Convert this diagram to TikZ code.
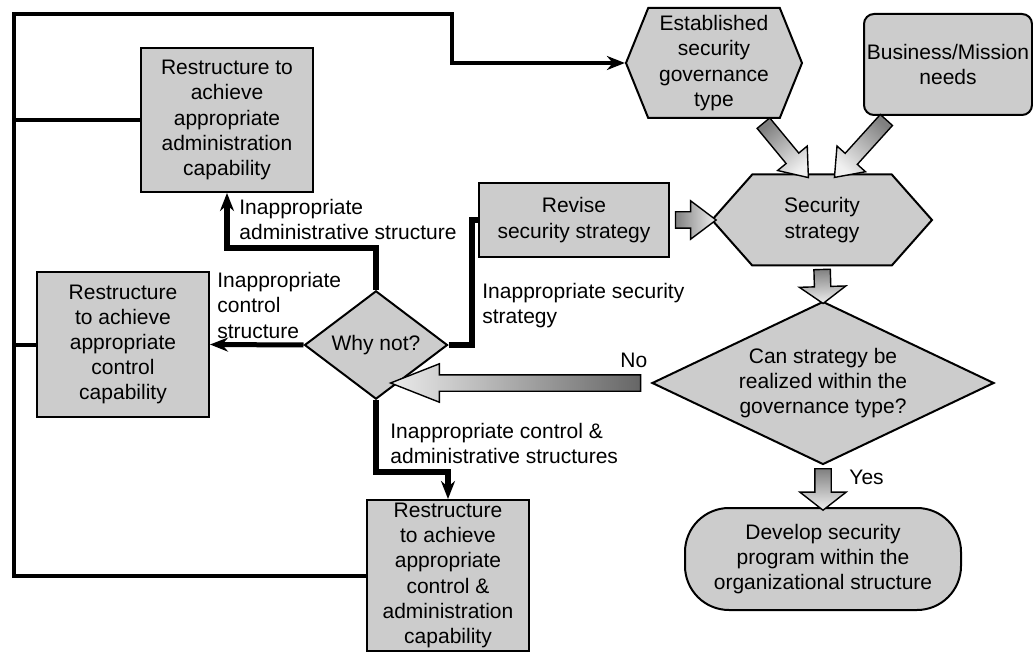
\documentclass[tikz,border=0pt]{standalone}
\usepackage{fontspec}
\setmainfont{Liberation Sans}
\usetikzlibrary{positioning,calc,arrows.meta,shapes.geometric,shapes.symbols,shapes.arrows}
\definecolor{boxgray}{RGB}{204,204,204}
% hollow shaded block arrow between two points
\newcommand{\fatarrow}[3][]{%
  \path let \p1=($(#3)-(#2)$), \n1={veclen(\x1,\y1)}, \n2={atan2(\y1,\x1)}, \n3={\n2+90} in
    node[fat arrow, minimum height=\n1, rotate=\n2, #1, shading angle=\n3] at ($(#2)!0.5!(#3)$) {};}

\begin{document}
\begin{tikzpicture}[x=0.5pt,y=-0.5pt,>={Stealth[length=9pt,width=7pt]},
  font=\fontsize{10.5}{12.6}\selectfont,
  process box/.style={rectangle,draw,line width=1pt,fill=boxgray,align=center,inner sep=1pt},
  hex box/.style={signal,signal to=east and west,draw,line width=1pt,fill=boxgray,align=center,inner sep=0pt},
  decision/.style={diamond,draw,line width=1pt,fill=boxgray,align=center,inner sep=0pt},
  fat arrow/.style={single arrow,draw,line width=0.7pt,inner xsep=0pt,inner ysep=3.75pt,
    single arrow head extend=5.5pt,single arrow tip angle=75,left color=black!50,right color=black!6},
  loop line/.style={line width=2pt},
  branch/.style={line width=3pt},
  note/.style={anchor=north west,inner sep=0pt,align=left}]
  \useasboundingbox (0,0) rectangle (1033,652);

  % boxes
  \node[process box,minimum width=86pt,minimum height=72pt] (admin) at (227,120)
    {Restructure to\\achieve\\appropriate\\administration\\capability};
  \node[process box,minimum width=86pt,minimum height=72.5pt] (ctrl) at (123,344.5)
    {Restructure\\to achieve\\appropriate\\control\\capability};
  \node[process box,minimum width=81pt,minimum height=75.5pt,inner ysep=0pt] (both) at (448,575.5)
    {Restructure\\to achieve\\appropriate\\control \&\\administration\\capability};
  \node[process box,minimum width=95pt,minimum height=37pt] (revise) at (574,220)
    {Revise\\security strategy};
  \node[process box,rounded corners=5pt,minimum width=84pt,minimum height=50.5pt] (needs) at (948,64.5)
    {Business/Mission\\needs};
  \node[hex box,minimum width=88pt,minimum height=55pt,signal pointer angle=136] (govtype) at (714,63)
    {Established\\security\\governance\\type};
  \node[hex box,minimum width=110pt,minimum height=45.5pt,signal pointer angle=97] (strategy) at (822,220)
    {Security\\strategy};
  \node[decision,minimum width=71.5pt,minimum height=52pt] (whynot) at (376,345) {Why not?};
  \node[decision,aspect=2.1,minimum width=171pt,minimum height=81.5pt] (realize) at (823,383)
    {Can strategy be\\realized within the\\governance type?};
  \node[process box,rounded corners=22pt,minimum width=138pt,minimum height=51pt] (develop) at (823,559)
    {Develop security\\program within the\\organizational structure};

  % feedback loop
  \coordinate (tl) at (14,14);
  \coordinate (tr) at (452,14);
  \draw[loop line,->] (both.west) -| (tl) -- (tr) |- (govtype.west);
  \draw[loop line] (admin.west) -- (admin.west -| tl);
  \draw[loop line] (ctrl.west) -- (ctrl.west -| tl);

  % why not? branches
  \coordinate (upbend) at (376,248);
  \coordinate (rbend) at (472,220);
  \coordinate (dbend) at (376,472);
  \draw[branch,->] (whynot.north) -- (upbend) -| (admin.south);
  \draw[line width=2.5pt,->] (whynot.west) -- (ctrl.east);
  \draw[branch] (whynot.east) -| (rbend) -- (revise.west);
  \draw[branch,->] (whynot.south) -- (dbend) -| (both.north);

  % block arrows
  \coordinate (notip) at (401,383);
  \fatarrow{[xshift=23pt]govtype.south}{[xshift=-8.5pt]strategy.north}
  \fatarrow{[xshift=-29pt]needs.south}{[xshift=8pt]strategy.north}
  \fatarrow[single arrow tip angle=74]{revise.east}{strategy.west}
  \fatarrow[single arrow head extend=7.5pt,single arrow tip angle=108]{strategy.south}{realize.north}
  \fatarrow[single arrow tip angle=43,left color=black!60,right color=black!8]{realize.west}{notip}
  \fatarrow[single arrow head extend=7.5pt,single arrow tip angle=104]{realize.south}{develop.north}

  % labels
  \node[note] (l_admin) at (239,199) {Inappropriate\\administrative structure};
  \node[note] (l_ctrl) at (217,272) {Inappropriate\\control\\structure};
  \node[note] (l_strat) at (482,283) {Inappropriate security\\strategy};
  \node[note] (l_both) at (390,423) {Inappropriate control \&\\administrative structures};
  \node[note] (l_no) at (620,353) {No};
  \node[note] (l_yes) at (849,470) {Yes};
\end{tikzpicture}
\end{document}
